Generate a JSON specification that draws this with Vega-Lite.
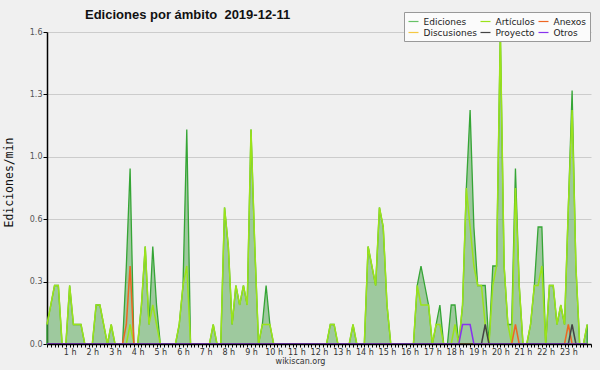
{
"$schema": "https://vega.github.io/schema/vega-lite/v6.json",
"width": 544, "height": 312,
"autosize": {"type": "none"},
"padding": {"left": 47, "top": 32, "right": 9, "bottom": 26},
"background": "#f0f0f0",
"config": {"view": {"stroke": null}, "font": "DejaVu Sans"},
"title": {"text": "Ediciones por ámbito \u00a02019-12-11", "anchor": "start", "frame": "group", "font": "Liberation Sans", "fontSize": 13, "fontWeight": "bold", "color": "#111111", "dx": 38, "dy": 20, "offset": 0, "baseline": "alphabetic"},
"data": {"values": [
{"m":0,"ed":0.1,"art":0.1,"anx":0,"dis":0,"pro":0,"otr":0},
{"m":10,"ed":0.2,"art":0.2,"anx":0,"dis":0,"pro":0,"otr":0},
{"m":20,"ed":0.3,"art":0.3,"anx":0,"dis":0,"pro":0,"otr":0},
{"m":30,"ed":0.3,"art":0.3,"anx":0,"dis":0,"pro":0,"otr":0},
{"m":40,"ed":0,"art":0,"anx":0,"dis":0,"pro":0,"otr":0},
{"m":50,"ed":0,"art":0,"anx":0,"dis":0,"pro":0,"otr":0},
{"m":60,"ed":0.3,"art":0.3,"anx":0,"dis":0,"pro":0,"otr":0},
{"m":70,"ed":0.1,"art":0.1,"anx":0,"dis":0,"pro":0,"otr":0},
{"m":80,"ed":0.1,"art":0.1,"anx":0,"dis":0,"pro":0,"otr":0},
{"m":90,"ed":0.1,"art":0.1,"anx":0,"dis":0,"pro":0,"otr":0},
{"m":100,"ed":0,"art":0,"anx":0,"dis":0,"pro":0,"otr":0},
{"m":110,"ed":0,"art":0,"anx":0,"dis":0,"pro":0,"otr":0},
{"m":120,"ed":0,"art":0,"anx":0,"dis":0,"pro":0,"otr":0},
{"m":130,"ed":0.2,"art":0.2,"anx":0,"dis":0,"pro":0,"otr":0},
{"m":140,"ed":0.2,"art":0.2,"anx":0,"dis":0,"pro":0,"otr":0},
{"m":150,"ed":0.1,"art":0.1,"anx":0,"dis":0,"pro":0,"otr":0},
{"m":160,"ed":0,"art":0,"anx":0,"dis":0,"pro":0,"otr":0},
{"m":170,"ed":0.1,"art":0.1,"anx":0,"dis":0,"pro":0,"otr":0},
{"m":180,"ed":0,"art":0,"anx":0,"dis":0,"pro":0,"otr":0},
{"m":190,"ed":0,"art":0,"anx":0,"dis":0,"pro":0,"otr":0},
{"m":200,"ed":0,"art":0,"anx":0,"dis":0,"pro":0,"otr":0},
{"m":210,"ed":0.4,"art":0,"anx":0.1,"dis":0,"pro":0,"otr":0},
{"m":220,"ed":0.9,"art":0.1,"anx":0.4,"dis":0,"pro":0,"otr":0},
{"m":230,"ed":0,"art":0,"anx":0,"dis":0,"pro":0,"otr":0},
{"m":240,"ed":0,"art":0,"anx":0,"dis":0,"pro":0,"otr":0},
{"m":250,"ed":0.2,"art":0.2,"anx":0,"dis":0,"pro":0,"otr":0},
{"m":260,"ed":0.5,"art":0.5,"anx":0,"dis":0,"pro":0,"otr":0},
{"m":270,"ed":0.1,"art":0.1,"anx":0,"dis":0,"pro":0,"otr":0},
{"m":280,"ed":0.5,"art":0.2,"anx":0,"dis":0,"pro":0,"otr":0},
{"m":290,"ed":0.2,"art":0.1,"anx":0,"dis":0,"pro":0,"otr":0},
{"m":300,"ed":0,"art":0,"anx":0,"dis":0,"pro":0,"otr":0},
{"m":310,"ed":0,"art":0,"anx":0,"dis":0,"pro":0,"otr":0},
{"m":320,"ed":0,"art":0,"anx":0,"dis":0,"pro":0,"otr":0},
{"m":330,"ed":0,"art":0,"anx":0,"dis":0,"pro":0,"otr":0},
{"m":340,"ed":0,"art":0,"anx":0,"dis":0,"pro":0,"otr":0},
{"m":350,"ed":0.1,"art":0.1,"anx":0,"dis":0,"pro":0,"otr":0},
{"m":360,"ed":0.3,"art":0.3,"anx":0,"dis":0,"pro":0,"otr":0},
{"m":370,"ed":1.1,"art":0.4,"anx":0,"dis":0,"pro":0,"otr":0},
{"m":380,"ed":0,"art":0,"anx":0,"dis":0,"pro":0,"otr":0},
{"m":390,"ed":0,"art":0,"anx":0,"dis":0,"pro":0,"otr":0},
{"m":400,"ed":0,"art":0,"anx":0,"dis":0,"pro":0,"otr":0},
{"m":410,"ed":0,"art":0,"anx":0,"dis":0,"pro":0,"otr":0},
{"m":420,"ed":0,"art":0,"anx":0,"dis":0,"pro":0,"otr":0},
{"m":430,"ed":0,"art":0,"anx":0,"dis":0,"pro":0,"otr":0},
{"m":440,"ed":0.1,"art":0.1,"anx":0,"dis":0,"pro":0,"otr":0},
{"m":450,"ed":0,"art":0,"anx":0,"dis":0,"pro":0,"otr":0},
{"m":460,"ed":0,"art":0,"anx":0,"dis":0,"pro":0,"otr":0},
{"m":470,"ed":0.7,"art":0.7,"anx":0,"dis":0,"pro":0,"otr":0},
{"m":480,"ed":0.5,"art":0.5,"anx":0,"dis":0,"pro":0,"otr":0},
{"m":490,"ed":0.1,"art":0.1,"anx":0,"dis":0,"pro":0,"otr":0},
{"m":500,"ed":0.3,"art":0.3,"anx":0,"dis":0,"pro":0,"otr":0},
{"m":510,"ed":0.2,"art":0.2,"anx":0,"dis":0,"pro":0,"otr":0},
{"m":520,"ed":0.3,"art":0.3,"anx":0,"dis":0,"pro":0,"otr":0},
{"m":530,"ed":0.2,"art":0.2,"anx":0,"dis":0,"pro":0,"otr":0},
{"m":540,"ed":1.1,"art":1.1,"anx":0,"dis":0,"pro":0,"otr":0},
{"m":550,"ed":0.5,"art":0.5,"anx":0,"dis":0,"pro":0,"otr":0},
{"m":560,"ed":0,"art":0,"anx":0,"dis":0,"pro":0,"otr":0},
{"m":570,"ed":0.1,"art":0.1,"anx":0,"dis":0,"pro":0,"otr":0},
{"m":580,"ed":0.3,"art":0.1,"anx":0,"dis":0,"pro":0,"otr":0},
{"m":590,"ed":0.1,"art":0.1,"anx":0,"dis":0,"pro":0,"otr":0},
{"m":600,"ed":0,"art":0,"anx":0,"dis":0,"pro":0,"otr":0},
{"m":610,"ed":0,"art":0,"anx":0,"dis":0,"pro":0,"otr":0},
{"m":620,"ed":0,"art":0,"anx":0,"dis":0,"pro":0,"otr":0},
{"m":630,"ed":0,"art":0,"anx":0,"dis":0,"pro":0,"otr":0},
{"m":640,"ed":0,"art":0,"anx":0,"dis":0,"pro":0,"otr":0},
{"m":650,"ed":0,"art":0,"anx":0,"dis":0,"pro":0,"otr":0},
{"m":660,"ed":0,"art":0,"anx":0,"dis":0,"pro":0,"otr":0},
{"m":670,"ed":0,"art":0,"anx":0,"dis":0,"pro":0,"otr":0},
{"m":680,"ed":0,"art":0,"anx":0,"dis":0,"pro":0,"otr":0},
{"m":690,"ed":0,"art":0,"anx":0,"dis":0,"pro":0,"otr":0},
{"m":700,"ed":0,"art":0,"anx":0,"dis":0,"pro":0,"otr":0},
{"m":710,"ed":0,"art":0,"anx":0,"dis":0,"pro":0,"otr":0},
{"m":720,"ed":0,"art":0,"anx":0,"dis":0,"pro":0,"otr":0},
{"m":730,"ed":0,"art":0,"anx":0,"dis":0,"pro":0,"otr":0},
{"m":740,"ed":0,"art":0,"anx":0,"dis":0,"pro":0,"otr":0},
{"m":750,"ed":0.1,"art":0.1,"anx":0,"dis":0,"pro":0,"otr":0},
{"m":760,"ed":0.1,"art":0.1,"anx":0,"dis":0,"pro":0,"otr":0},
{"m":770,"ed":0,"art":0,"anx":0,"dis":0,"pro":0,"otr":0},
{"m":780,"ed":0,"art":0,"anx":0,"dis":0,"pro":0,"otr":0},
{"m":790,"ed":0,"art":0,"anx":0,"dis":0,"pro":0,"otr":0},
{"m":800,"ed":0,"art":0,"anx":0,"dis":0,"pro":0,"otr":0},
{"m":810,"ed":0.1,"art":0.1,"anx":0,"dis":0,"pro":0,"otr":0},
{"m":820,"ed":0,"art":0,"anx":0,"dis":0,"pro":0,"otr":0},
{"m":830,"ed":0,"art":0,"anx":0,"dis":0,"pro":0,"otr":0},
{"m":840,"ed":0,"art":0,"anx":0,"dis":0,"pro":0,"otr":0},
{"m":850,"ed":0.5,"art":0.5,"anx":0,"dis":0,"pro":0,"otr":0},
{"m":860,"ed":0.4,"art":0.4,"anx":0,"dis":0,"pro":0,"otr":0},
{"m":870,"ed":0.3,"art":0.3,"anx":0,"dis":0,"pro":0,"otr":0},
{"m":880,"ed":0.7,"art":0.7,"anx":0,"dis":0,"pro":0,"otr":0},
{"m":890,"ed":0.6,"art":0.6,"anx":0,"dis":0,"pro":0,"otr":0},
{"m":900,"ed":0.2,"art":0.2,"anx":0,"dis":0,"pro":0,"otr":0},
{"m":910,"ed":0,"art":0,"anx":0,"dis":0,"pro":0,"otr":0},
{"m":920,"ed":0,"art":0,"anx":0,"dis":0,"pro":0,"otr":0},
{"m":930,"ed":0,"art":0,"anx":0,"dis":0,"pro":0,"otr":0},
{"m":940,"ed":0,"art":0,"anx":0,"dis":0,"pro":0,"otr":0},
{"m":950,"ed":0,"art":0,"anx":0,"dis":0,"pro":0,"otr":0},
{"m":960,"ed":0,"art":0,"anx":0,"dis":0,"pro":0,"otr":0},
{"m":970,"ed":0,"art":0,"anx":0,"dis":0,"pro":0,"otr":0},
{"m":980,"ed":0.3,"art":0.3,"anx":0,"dis":0,"pro":0,"otr":0},
{"m":990,"ed":0.4,"art":0.2,"anx":0,"dis":0,"pro":0,"otr":0},
{"m":1000,"ed":0.3,"art":0.2,"anx":0,"dis":0,"pro":0,"otr":0},
{"m":1010,"ed":0.2,"art":0.2,"anx":0,"dis":0,"pro":0,"otr":0},
{"m":1020,"ed":0,"art":0,"anx":0,"dis":0,"pro":0,"otr":0},
{"m":1030,"ed":0.1,"art":0.1,"anx":0,"dis":0,"pro":0,"otr":0},
{"m":1040,"ed":0.2,"art":0.1,"anx":0,"dis":0,"pro":0,"otr":0},
{"m":1050,"ed":0,"art":0,"anx":0,"dis":0,"pro":0,"otr":0},
{"m":1060,"ed":0,"art":0,"anx":0,"dis":0,"pro":0,"otr":0},
{"m":1070,"ed":0.2,"art":0,"anx":0,"dis":0,"pro":0,"otr":0},
{"m":1080,"ed":0.2,"art":0.1,"anx":0,"dis":0,"pro":0,"otr":0},
{"m":1090,"ed":0,"art":0,"anx":0,"dis":0,"pro":0,"otr":0},
{"m":1100,"ed":0.2,"art":0.2,"anx":0,"dis":0,"pro":0,"otr":0.1},
{"m":1110,"ed":0.8,"art":0.8,"anx":0,"dis":0,"pro":0,"otr":0.1},
{"m":1120,"ed":1.2,"art":0.6,"anx":0,"dis":0,"pro":0,"otr":0.1},
{"m":1130,"ed":0.6,"art":0.4,"anx":0,"dis":0,"pro":0,"otr":0},
{"m":1140,"ed":0.3,"art":0.3,"anx":0,"dis":0,"pro":0,"otr":0},
{"m":1150,"ed":0.3,"art":0.3,"anx":0,"dis":0,"pro":0,"otr":0},
{"m":1160,"ed":0.3,"art":0.1,"anx":0,"dis":0,"pro":0.1,"otr":0},
{"m":1170,"ed":0,"art":0,"anx":0,"dis":0,"pro":0,"otr":0},
{"m":1180,"ed":0.4,"art":0.3,"anx":0,"dis":0,"pro":0,"otr":0},
{"m":1190,"ed":0.4,"art":0.4,"anx":0,"dis":0,"pro":0,"otr":0},
{"m":1200,"ed":1.6,"art":1.6,"anx":0,"dis":0,"pro":0,"otr":0},
{"m":1210,"ed":0.4,"art":0.4,"anx":0,"dis":0,"pro":0,"otr":0},
{"m":1220,"ed":0.1,"art":0.1,"anx":0,"dis":0,"pro":0,"otr":0},
{"m":1230,"ed":0.1,"art":0,"anx":0,"dis":0,"pro":0,"otr":0},
{"m":1240,"ed":0.9,"art":0.8,"anx":0.1,"dis":0,"pro":0,"otr":0},
{"m":1250,"ed":0.3,"art":0.3,"anx":0,"dis":0,"pro":0,"otr":0},
{"m":1260,"ed":0,"art":0,"anx":0,"dis":0,"pro":0,"otr":0},
{"m":1270,"ed":0,"art":0,"anx":0,"dis":0,"pro":0,"otr":0},
{"m":1280,"ed":0.1,"art":0.1,"anx":0,"dis":0,"pro":0,"otr":0},
{"m":1290,"ed":0.3,"art":0.3,"anx":0,"dis":0,"pro":0,"otr":0},
{"m":1300,"ed":0.6,"art":0.3,"anx":0,"dis":0,"pro":0,"otr":0},
{"m":1310,"ed":0.6,"art":0.4,"anx":0,"dis":0,"pro":0,"otr":0},
{"m":1320,"ed":0,"art":0,"anx":0,"dis":0,"pro":0,"otr":0},
{"m":1330,"ed":0.3,"art":0.3,"anx":0,"dis":0,"pro":0,"otr":0},
{"m":1340,"ed":0.3,"art":0.3,"anx":0,"dis":0,"pro":0,"otr":0},
{"m":1350,"ed":0.1,"art":0.1,"anx":0,"dis":0,"pro":0,"otr":0},
{"m":1360,"ed":0.2,"art":0.2,"anx":0,"dis":0,"pro":0,"otr":0},
{"m":1370,"ed":0.1,"art":0.1,"anx":0,"dis":0,"pro":0,"otr":0},
{"m":1380,"ed":0.7,"art":0.7,"anx":0.1,"dis":0,"pro":0,"otr":0},
{"m":1390,"ed":1.3,"art":1.2,"anx":0,"dis":0,"pro":0.1,"otr":0},
{"m":1400,"ed":0.4,"art":0.4,"anx":0,"dis":0,"pro":0,"otr":0},
{"m":1410,"ed":0,"art":0,"anx":0,"dis":0,"pro":0,"otr":0},
{"m":1420,"ed":0,"art":0,"anx":0,"dis":0,"pro":0,"otr":0},
{"m":1430,"ed":0.1,"art":0.1,"anx":0,"dis":0,"pro":0,"otr":0}
]},
"encoding": {
  "x": {"field": "m", "type": "quantitative", "scale": {"domain": [0, 1440], "nice": false},
    "axis": {"tickCount": 144, "labelExpr": "datum.value % 60 === 0 && datum.value > 0 && datum.value < 1440 ? (datum.value / 60) + ' h' : ''",
      "labelOverlap": false, "labelFlush": false, "labelBound": false, "labelFont": "DejaVu Sans", "labelFontSize": 8, "labelColor": "#333333", "labelPadding": 1,
      "tickSize": 3, "tickColor": "#000000", "domainColor": "#000000", "domainWidth": 1.5, "grid": false,
      "title": "wikiscan.org", "titleFont": "DejaVu Sans", "titleFontSize": 8, "titleFontWeight": "normal", "titleColor": "#333333",
      "titleX": 253, "titleY": 17, "titleBaseline": "middle", "titleAnchor": "start", "titleAlign": "center", "zindex": 1}}
},
"layer": [
  {"mark": {"type": "area", "fill": "#3a9a3a", "fillOpacity": 0.45, "stroke": "#35a535", "strokeWidth": 1.3},
   "encoding": {"y": {"field": "ed", "type": "quantitative", "title": "Ediciones/min", "scale": {"domain": [0, 1.6], "nice": false},
     "axis": {"values": [0,0.08,0.16,0.24,0.32,0.4,0.48,0.56,0.64,0.72,0.8,0.88,0.96,1.04,1.12,1.2,1.28,1.36,1.44,1.52,1.6],
       "labelExpr": "round(datum.value * 100) % 32 === 0 ? format(datum.value, '.1f') : ''",
       "labelFont": "DejaVu Sans", "labelFontSize": 8, "labelColor": "#555555", "labelPadding": 1,
       "tickSize": 4, "tickColor": "#000000", "domainColor": "#000000", "domainWidth": 1.5,
       "gridColor": "#cccccc", "gridOpacity": {"condition": {"test": "round(datum.value * 100) % 32 === 0", "value": 1}, "value": 0},
       "title": "Ediciones/min", "titleFont": "DejaVu Sans Mono", "titleFontSize": 11.5, "titleFontWeight": "normal", "titleColor": "#111111",
       "titleX": -33, "titleY": 150, "titleBaseline": "bottom", "titleAlign": "center", "titleAngle": -90, "zindex": 0}}}},
  {"mark": {"type": "line", "strokeWidth": 1.5},
   "encoding": {"y": {"field": "art", "type": "quantitative", "title": "Ediciones/min"},
     "color": {"datum": "Artículos", "type": "nominal",
       "scale": {"domain": ["Ediciones", "Artículos", "Anexos", "Discusiones", "Proyecto", "Otros"],
                 "range": ["#66c266", "#9be31a", "#ee6622", "#f5c842", "#444444", "#8833ee"]},
       "legend": {"orient": "none", "legendX": 357, "legendY": -20, "direction": "horizontal", "columns": 3, "title": null,
         "symbolType": "stroke", "symbolSize": 100, "symbolStrokeWidth": 1.2, "labelFont": "DejaVu Sans", "labelFontSize": 9, "labelColor": "#222222",
         "labelOffset": 4, "columnPadding": 0, "rowPadding": -1, "padding": 3.5, "fillColor": "#fbfbfb", "strokeColor": "#999999", "labelLimit": 200}}}},
  {"mark": {"type": "line", "strokeWidth": 1.5},
   "encoding": {"y": {"field": "dis", "type": "quantitative", "title": "Ediciones/min"}, "color": {"datum": "Discusiones", "type": "nominal"}}},
  {"mark": {"type": "line", "strokeWidth": 1.5},
   "encoding": {"y": {"field": "anx", "type": "quantitative", "title": "Ediciones/min"}, "color": {"datum": "Anexos", "type": "nominal"}}},
  {"mark": {"type": "line", "strokeWidth": 1.5},
   "encoding": {"y": {"field": "pro", "type": "quantitative", "title": "Ediciones/min"}, "color": {"datum": "Proyecto", "type": "nominal"}}},
  {"mark": {"type": "line", "strokeWidth": 1.5},
   "encoding": {"y": {"field": "otr", "type": "quantitative", "title": "Ediciones/min"}, "color": {"datum": "Otros", "type": "nominal"}}},
  {"data": {"values": [{"credit": "CC BY-SA 3.0"}]},
   "mark": {"type": "text", "align": "right", "baseline": "middle", "dx": -2, "dy": 19, "font": "DejaVu Sans", "fontSize": 6, "color": "#333333"},
   "encoding": {"x": {"datum": 1440, "type": "quantitative"}, "y": {"datum": 0, "type": "quantitative"}, "text": {"field": "credit"}}}
]
}
